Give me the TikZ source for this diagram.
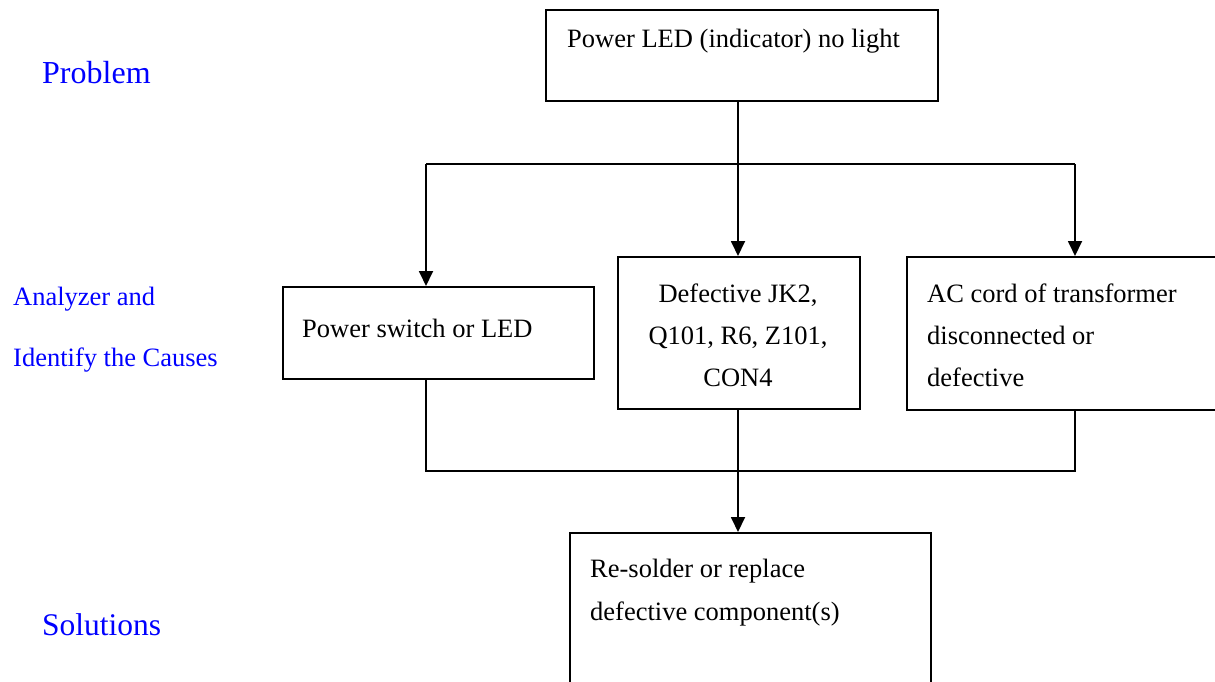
\documentclass[tikz,border=0pt]{standalone}
\usepackage{fontspec}
\setmainfont{Liberation Serif}
\usetikzlibrary{arrows.meta}
\definecolor{lblblue}{RGB}{0,0,255}
\begin{document}
\begin{tikzpicture}[x=1pt,y=-1pt,
  box/.style={draw=black,line width=1.8pt,rectangle,inner sep=0pt,anchor=north west},
  txt/.style={font=\fontsize{26.5}{42}\selectfont,inner sep=0pt,anchor=base west,align=left},
  ctxt/.style={font=\fontsize{26.5}{42}\selectfont,inner sep=0pt,anchor=base,align=center},
  side/.style={text=lblblue,inner sep=0pt,anchor=base west},
  conn/.style={line width=1.8pt},
  arr/.style={conn,-{Triangle[length=15pt,width=14pt]}}]
\useasboundingbox (0,0) rectangle (1215,681);
\clip (0,0) rectangle (1215,681);
% boxes
\node[box,minimum width=392pt,minimum height=91pt] (top) at (545,9) {};
\node[box,minimum width=311pt,minimum height=92pt] (ps) at (282,286) {};
\node[box,minimum width=242pt,minimum height=152pt] (mid) at (617,256) {};
\node[box,minimum width=320pt,minimum height=153pt] (ac) at (906,256) {};
\node[box,minimum width=361pt,minimum height=170pt] (sol) at (569,532) {};
% box texts
\node[txt] (ttop) at (567,47) {Power LED (indicator) no light};
\node[txt] (tps) at (302,337) {Power switch or LED};
\node[ctxt] (tmid1) at (738,302) {Defective JK2,};
\node[ctxt] (tmid2) at (738,344) {Q101, R6, Z101,};
\node[ctxt] (tmid3) at (738,386) {CON4};
\node[txt] (tac1) at (927,302) {AC cord of transformer};
\node[txt] (tac2) at (927,344) {disconnected or};
\node[txt] (tac3) at (927,386) {defective};
\node[txt] (tsol1) at (590,577) {Re-solder or replace};
\node[txt] (tsol2) at (590,620) {defective component(s)};
% side labels
\node[side,font=\fontsize{32}{38}\selectfont] (lprob) at (42,83) {Problem};
\node[side,font=\fontsize{26.5}{32}\selectfont] (lan1) at (13,305) {Analyzer and};
\node[side,font=\fontsize{26.5}{32}\selectfont] (lan2) at (13,366) {Identify the Causes};
\node[side,font=\fontsize{31.5}{38}\selectfont] (lsol) at (42,635) {Solutions};
% connectors
\coordinate (jt) at (738,164);
\coordinate (jl) at (426,164);
\coordinate (jr) at (1075,164);
\coordinate (bl) at (426,471);
\coordinate (br) at (1075,471);
\coordinate (bm) at (738,471);
\draw[conn] (jt |- top.south) -- (jt);
\draw[conn] (jl) -- (jr);
\draw[arr] (jl) -- (jl |- ps.north);
\draw[arr] (jt) -- (jt |- mid.north);
\draw[arr] (jr) -- (jr |- ac.north);
\draw[conn] (bl |- ps.south) -- (bl) -- (br) -- (br |- ac.south);
\draw[arr] (bm |- mid.south) -- (bm |- sol.north);
\end{tikzpicture}
\end{document}
